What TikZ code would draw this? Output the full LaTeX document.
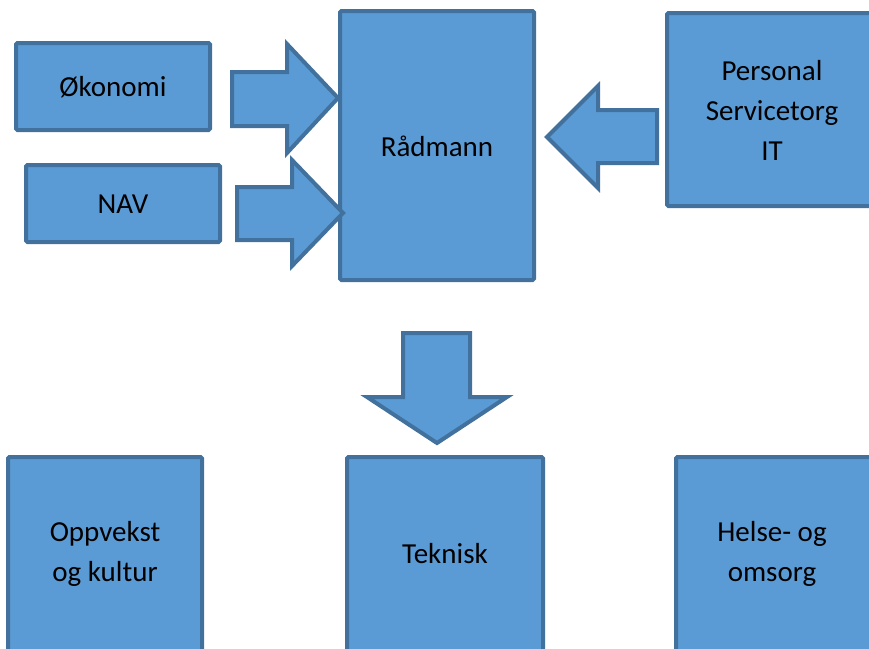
\documentclass[tikz,border=0pt]{standalone}
\usepackage{fontspec}
\setmainfont{Carlito}
\definecolor{boxfill}{HTML}{5B9BD5}
\definecolor{boxline}{HTML}{41719C}
\begin{document}
\begin{tikzpicture}[x=1pt,y=-1pt,
  unit/.style={draw=boxline,fill=boxfill,line width=4pt,rounded corners=1.5pt},
  blockarrow/.style={draw=boxline,fill=boxfill,line width=4pt,line join=miter},
  lbl/.style={font=\fontsize{29}{40}\selectfont,align=center,text=black}]
\useasboundingbox (0,0) rectangle (869,648);
\clip (0,0) rectangle (869,648);
% boxes
\draw[unit] (16,43) rectangle (210,130);
\node[lbl] (okonomi) at (113,87) {Økonomi};
\draw[unit] (26,165) rectangle (220,242);
\node[lbl] (nav) at (123,204) {NAV};
\draw[unit] (340,11) rectangle (534,280);
\node[lbl] (radmann) at (437,146) {Rådmann};
\draw[unit] (667,13) rectangle (880,206);
\node[lbl] (personal) at (772,110) {Personal\\Servicetorg\\IT};
\draw[unit] (8,457) rectangle (202,660);
\node[lbl] (oppvekst) at (105,554) {Oppvekst\\og kultur};
\draw[unit] (347,457) rectangle (543,660);
\node[lbl] (teknisk) at (445,554) {Teknisk};
\draw[unit] (676,457) rectangle (880,660);
\node[lbl] (helse) at (772,554) {Helse- og\\omsorg};
% block arrows
\draw[blockarrow] (232,72) -- (287,72) -- (287,44) -- (338,98) -- (287,153) -- (287,126) -- (232,126) -- cycle;
\draw[blockarrow] (237,187) -- (292,187) -- (292,160) -- (343,213) -- (292,266) -- (292,240) -- (237,240) -- cycle;
\draw[blockarrow] (657,110) -- (598,110) -- (598,86) -- (547,137) -- (598,188) -- (598,163) -- (657,163) -- cycle;
\draw[blockarrow] (403,333) -- (470,333) -- (470,397) -- (507,397) -- (437,443) -- (367,397) -- (403,397) -- cycle;
\end{tikzpicture}
\end{document}
